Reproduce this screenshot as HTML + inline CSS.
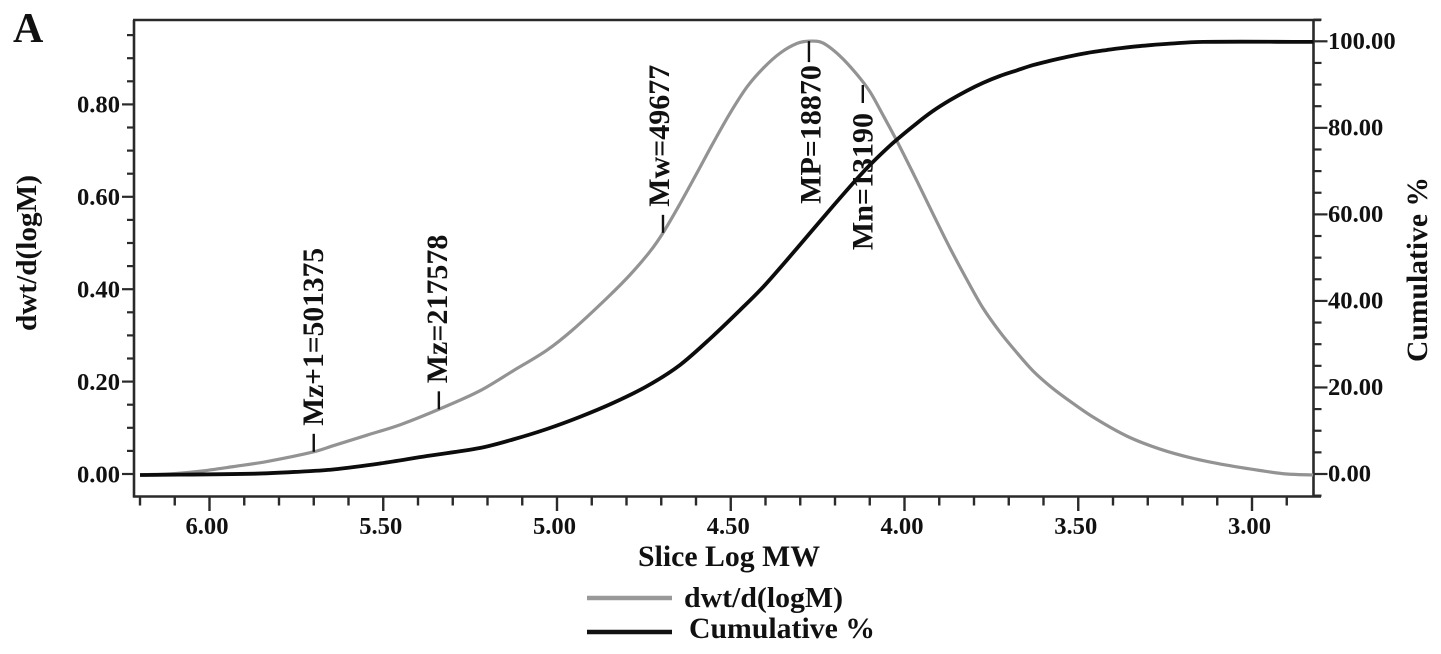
<!DOCTYPE html>
<html lang="en">
<head>
<meta charset="utf-8">
<title>Molecular weight distribution chart</title>
<style>
  html, body { margin: 0; padding: 0; background: #fff; }
  svg { display: block; }
  text { font-family: "Liberation Serif", serif; font-weight: bold; fill: #111; }
</style>
</head>
<body>
<svg id="chart" xmlns="http://www.w3.org/2000/svg" width="1441" height="654" viewBox="0 0 1441 654">
  <rect x="0" y="0" width="1441" height="654" fill="#fff"/>
  <text x="13" y="42" font-size="42">A</text>
  <g id="grid-axes"></g>
  <g id="series"></g>
  <g id="markers"></g>
  <text x="638" y="566" font-size="30" textLength="182" lengthAdjust="spacingAndGlyphs">Slice Log MW</text>
  <text transform="translate(36,331) rotate(-90)" font-size="28.5" textLength="156" lengthAdjust="spacingAndGlyphs">dwt/d(logM)</text>
  <text transform="translate(1427,362) rotate(-90)" font-size="29.5" textLength="185" lengthAdjust="spacingAndGlyphs">Cumulative %</text>
  <g>
    <line x1="587" y1="598" x2="672" y2="598" stroke="#999" stroke-width="4.5"/>
    <text x="684" y="607" font-size="28.7" textLength="159" lengthAdjust="spacingAndGlyphs">dwt/d(logM)</text>
    <line x1="587" y1="632" x2="672" y2="632" stroke="#111" stroke-width="4.5"/>
    <text x="689" y="638" font-size="29.5" textLength="186" lengthAdjust="spacingAndGlyphs">Cumulative %</text>
  </g>
</svg>
<script>
// ---- chart data ----
const dwtLogMw = [6.2, 6.1, 6.027, 5.932, 5.835, 5.7, 5.645, 5.547, 5.45, 5.337, 5.222, 5.127, 5.029, 4.955, 4.856, 4.79, 4.732, 4.695, 4.646, 4.597, 4.551, 4.502, 4.453, 4.407, 4.358, 4.309, 4.272, 4.235, 4.186, 4.137, 4.099, 4.062, 4.022, 3.964, 3.918, 3.869, 3.82, 3.774, 3.725, 3.676, 3.63, 3.581, 3.532, 3.457, 3.36, 3.265, 3.17, 3.072, 2.977, 2.9, 2.824];
const dwtValues = [-0.002, 0.001, 0.006, 0.016, 0.027, 0.048, 0.061, 0.084, 0.107, 0.141, 0.18, 0.223, 0.268, 0.312, 0.381, 0.431, 0.482, 0.522, 0.585, 0.652, 0.716, 0.781, 0.838, 0.878, 0.911, 0.932, 0.937, 0.933, 0.905, 0.865, 0.827, 0.777, 0.721, 0.634, 0.563, 0.489, 0.42, 0.359, 0.307, 0.262, 0.223, 0.19, 0.162, 0.123, 0.082, 0.054, 0.034, 0.019, 0.0076, 0, -0.002];
const cumulativeLogMw = [6.2, 5.869, 5.731, 5.645, 5.509, 5.374, 5.222, 5.127, 5.029, 4.934, 4.839, 4.741, 4.646, 4.551, 4.473, 4.407, 4.309, 4.223, 4.137, 4.091, 4.033, 3.964, 3.918, 3.869, 3.82, 3.774, 3.725, 3.676, 3.63, 3.581, 3.532, 3.475, 3.417, 3.38, 3.322, 3.245, 3.14, 2.824];
const cumulativeValues = [-0.23, 0.07, 0.58, 1.04, 2.43, 4.16, 6, 7.97, 10.4, 13.2, 16.4, 20.3, 25.2, 31.9, 37.9, 43.2, 52.2, 60.3, 68.2, 72.1, 76.5, 81.1, 83.9, 86.4, 88.6, 90.4, 92, 93.3, 94.5, 95.5, 96.4, 97.3, 98, 98.4, 98.9, 99.4, 99.86, 99.86];
const xMajorTicks = [6, 5.5, 5, 4.5, 4, 3.5, 3];
const xTickLabels = ["6.00", "5.50", "5.00", "4.50", "4.00", "3.50", "3.00"];
const leftMajorTicks = [0, 0.2, 0.4, 0.6, 0.8];
const leftTickLabels = ["0.00", "0.20", "0.40", "0.60", "0.80"];
const rightMajorTicks = [0, 20, 40, 60, 80, 100];
const rightTickLabels = ["0.00", "20.00", "40.00", "60.00", "80.00", "100.00"];
const markerLabels = ["Mz+1=501375", "Mz=217578", "Mw=49677", "MP=18870", "Mn=13190"];
const markerLogMw = [5.7, 5.34, 4.695, 4.275, 4.12];
const markerValues = [0.048, 0.14, 0.522, 0.937, 0.842];

// ---- axis functions ----
const X0 = 209.5, X_PER_UNIT = 347.5;
const Y0 = 474, LEFT_PER_UNIT = 462, RIGHT_PER_UNIT = 4.327;
function xScale(v) { return X0 + (6 - v) * X_PER_UNIT; }
function leftScale(v) { return Y0 - v * LEFT_PER_UNIT; }
function rightScale(v) { return Y0 - v * RIGHT_PER_UNIT; }

const NS = "http://www.w3.org/2000/svg";
const axesGroup = document.getElementById("grid-axes");
const seriesGroup = document.getElementById("series");
const markersGroup = document.getElementById("markers");
const PLOT = { left: 134, right: 1313.5, top: 20, bottom: 496.5 };

function makeLine(x1, y1, x2, y2, width, color) {
  const el = document.createElementNS(NS, "line");
  el.setAttribute("x1", x1);
  el.setAttribute("y1", y1);
  el.setAttribute("x2", x2);
  el.setAttribute("y2", y2);
  el.setAttribute("stroke", color);
  el.setAttribute("stroke-width", width);
  return el;
}
function makeText(str, x, y, size, anchor) {
  const el = document.createElementNS(NS, "text");
  el.setAttribute("x", x);
  el.setAttribute("y", y);
  el.setAttribute("font-size", size);
  el.setAttribute("text-anchor", anchor);
  el.textContent = str;
  return el;
}

// frame
const AXIS = "#2a2a2a";
const frameTop = makeLine(PLOT.left - 1, PLOT.top, 1321, PLOT.top, 2.6, AXIS);


axesGroup.appendChild(frameTop);
const frameLeft = makeLine(PLOT.left, PLOT.top, PLOT.left, PLOT.bottom + 1, 2.6, AXIS);


axesGroup.appendChild(frameLeft);
const frameRight = makeLine(PLOT.right, PLOT.top, PLOT.right, PLOT.bottom + 1, 2.6, AXIS);


axesGroup.appendChild(frameRight);
const frameBottom = makeLine(PLOT.left - 1, PLOT.bottom, 1321, PLOT.bottom, 2.6, AXIS);


axesGroup.appendChild(frameBottom);

// ticks
for (let i = 29; i <= 62; i++) {
  const v = i / 10;
  const isMajor = xMajorTicks.indexOf(v) >= 0;
  const t = makeLine(xScale(v), PLOT.bottom, xScale(v), PLOT.bottom + (isMajor ? 14.5 : 9), 2.4, AXIS);
  
  
  axesGroup.appendChild(t);
}
for (let i = 0; i <= 19; i++) {
  const v = i * 0.05;
  const isMajor = i % 4 === 0 && i <= 16;
  const t = makeLine(PLOT.left - (isMajor ? 12 : 7), leftScale(v), PLOT.left, leftScale(v), 2.2, AXIS);
  
  
  axesGroup.appendChild(t);
}
for (let i = -1; i <= 21; i++) {
  const v = i * 5;
  const isMajor = i % 4 === 0 && i >= 0 && i <= 20;
  const t = makeLine(PLOT.right, rightScale(v), PLOT.right + (isMajor ? 14 : 8), rightScale(v), 2.2, AXIS);
  
  
  axesGroup.appendChild(t);
}

// tick labels
xMajorTicks.forEach(function (v, i) {
  const t = makeText(xTickLabels[i], xScale(v) - 2.5, 534, 24.6, "middle");
  
  
  axesGroup.appendChild(t);
});
leftMajorTicks.forEach(function (v, i) {
  const t = makeText(leftTickLabels[i], 120, leftScale(v) + 8.3, 24.6, "end");
  
  
  axesGroup.appendChild(t);
});
rightMajorTicks.forEach(function (v, i) {
  const t = makeText(rightTickLabels[i], 1328, rightScale(v) + 7.5, 24.6, "start");
  
  
  axesGroup.appendChild(t);
});

// smooth path through data points
function smoothPath(xs, ys) {
  const pts = xs.map(function (x, i) { return [x, ys[i]]; });
  let d = "M" + pts[0][0].toFixed(2) + " " + pts[0][1].toFixed(2);
  for (let i = 0; i < pts.length - 1; i++) {
    const p0 = pts[Math.max(i - 1, 0)];
    const p1 = pts[i];
    const p2 = pts[i + 1];
    const p3 = pts[Math.min(i + 2, pts.length - 1)];
    const k = (p2[0] - p1[0]) / 3;
    const m1 = (p2[1] - p0[1]) / (p2[0] - p0[0]);
    const m2 = (p3[1] - p1[1]) / (p3[0] - p1[0]);
    d += "C" + (p1[0] + k).toFixed(2) + " " + (p1[1] + m1 * k).toFixed(2) + " " +
         (p2[0] - k).toFixed(2) + " " + (p2[1] - m2 * k).toFixed(2) + " " +
         p2[0].toFixed(2) + " " + p2[1].toFixed(2);
  }
  return d;
}
function makeCurve(d, color, width) {
  const el = document.createElementNS(NS, "path");
  el.setAttribute("d", d);
  el.setAttribute("fill", "none");
  el.setAttribute("stroke", color);
  el.setAttribute("stroke-width", width);
  el.setAttribute("stroke-linejoin", "round");
  return el;
}
const dwtCurve = makeCurve(smoothPath(dwtLogMw.map(xScale), dwtValues.map(leftScale)), "#939393", 3.2);


seriesGroup.appendChild(dwtCurve);
const cumulativeCurve = makeCurve(smoothPath(cumulativeLogMw.map(xScale), cumulativeValues.map(rightScale)), "#0c0c0c", 3.8);


seriesGroup.appendChild(cumulativeCurve);

// markers: tick from the curve and a rotated label
const TICK_LEN = 18;
function labelBaselineOffset(i) {
  if (i === 2) return 6;
  if (i === 3) return 11.5;
  if (i === 1) return 8;
  return 9.5;
}
markerLabels.forEach(function (label, i) {
  const x = xScale(markerLogMw[i]);
  const y = leftScale(markerValues[i]);
  const below = markerValues[i] > 0.8;
  const yEnd = below ? y + TICK_LEN + (i === 3 ? 3 : 0) : y - TICK_LEN;
  const tick = makeLine(x, y, x, yEnd, 2.4, "#111");
  
  
  markersGroup.appendChild(tick);
  const text = document.createElementNS(NS, "text");
  const baseX = x + labelBaselineOffset(i);
  const anchorY = below ? yEnd + (i === 3 ? 3 : 10) : yEnd - 8;
  text.setAttribute("transform", "translate(" + baseX.toFixed(1) + "," + anchorY.toFixed(1) + ") rotate(-90)");
  text.setAttribute("font-size", "30");
  text.setAttribute("text-anchor", below ? "end" : "start");
  if (i === 0) {
    text.setAttribute("textLength", "178");
    text.setAttribute("lengthAdjust", "spacingAndGlyphs");
  }
  text.textContent = label;
  
  
  markersGroup.appendChild(text);
});
</script>
</body>
</html>
